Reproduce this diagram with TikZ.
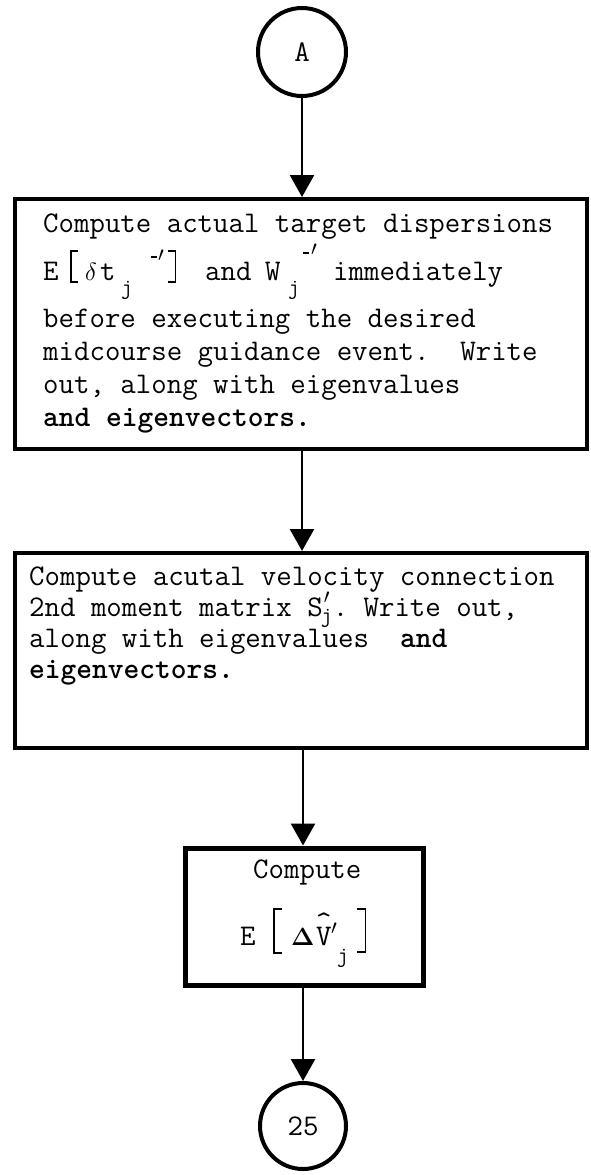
\documentclass[tikz,border=0pt]{standalone}
\usetikzlibrary{arrows.meta}
\renewcommand\familydefault{\ttdefault}
\newcommand\putat[2]{\makebox[0pt][l]{\hspace*{#1}#2}}
\newcommand\LBr[3]{\rlap{\rule[-#3]{1.6pt}{\dimexpr#2+#3\relax}}\rlap{\rule[\dimexpr#2-1.6pt\relax]{#1}{1.6pt}}\rule[-#3]{#1}{1.6pt}}
\newcommand\RBr[3]{\rlap{\rule[\dimexpr#2-1.6pt\relax]{#1}{1.6pt}}\rlap{\rule[-#3]{#1}{1.6pt}}\kern\dimexpr#1-1.6pt\relax\rule[-#3]{1.6pt}{\dimexpr#2+#3\relax}}
\newcommand\subj[1]{\raisebox{-#1}{\fontsize{22}{22}\selectfont j}}
\newcommand\prm[1]{\raisebox{#1}{\fontsize{20}{20}\selectfont$\prime$}}
\newcommand\dsh[1]{\rule[#1]{6pt}{1.6pt}}
\tikzset{
  txt/.style={inner sep=0pt, font=\fontsize{30}{33}\selectfont\ttfamily\frenchspacing},
  boxnode/.style={draw, line width=4pt, rectangle, inner sep=0pt},
  circnode/.style={draw, line width=4pt, circle, inner sep=0pt, font=\fontsize{30}{33}\selectfont\ttfamily},
  conn/.style={line width=2.5pt, -{Triangle[width=24pt,length=22pt]}}
}
\begin{document}
\begin{tikzpicture}[x=1pt,y=-1pt]
\useasboundingbox (0,0) rectangle (590,1175);
% nodes
\node[circnode, minimum size=88pt] (A) at (302,52) {A};
\node[boxnode, minimum width=572pt, minimum height=250pt] (b1) at (301,324) {};
\node[boxnode, minimum width=572pt, minimum height=195pt] (b2) at (301,650.5) {};
\node[boxnode, line width=5pt, minimum width=238pt, minimum height=137pt] (b3) at (304,916.5) {};
\node[circnode, minimum size=86pt] (C25) at (303,1126) {25};
% texts
\node[txt, anchor=base west] (t1) at (43,232) {\vtop{\baselineskip=33pt\lineskiplimit=-\maxdimen
\hbox{Compute actual target dispersions}\kern15pt
\hbox{\putat{0pt}{E}\putat{27pt}{\LBr{8pt}{30pt}{3pt}}\putat{42pt}{$\delta$}\putat{57pt}{t}\putat{78pt}{\subj{14pt}}\putat{108pt}{\dsh{22pt}}\putat{115pt}{\prm{19pt}}\putat{125pt}{\RBr{8pt}{30pt}{3pt}}\putat{162pt}{and}\putat{222pt}{W}\putat{245pt}{\subj{14pt}}\putat{260pt}{\dsh{26pt}}\putat{268pt}{\prm{25pt}}\putat{290pt}{immediately}}\kern14pt
\hbox{before executing the desired}
\hbox{midcourse guidance event.\ \ Write}
\hbox{out, along with eigenvalues}
\hbox{\bfseries and eigenvectors.}}};
\node[txt, anchor=base west] (t2) at (29,585) {\vtop{\baselineskip=31pt\lineskiplimit=-\maxdimen
\hbox{Compute acutal velocity connection}
\hbox{2nd moment matrix S\putat{-2pt}{\subj{6pt}}\putat{1pt}{\prm{13pt}}\kern10pt.\ Write out,}
\hbox{along with eigenvalues\ \ \textbf{and}}
\hbox{\bfseries eigenvectors.}}};
\node[txt, anchor=base west] (t3) at (240,878) {\vtop{\baselineskip=67pt\lineskiplimit=-\maxdimen
\hbox{\kern13pt Compute}
\hbox{\putat{0pt}{E}\putat{33pt}{\LBr{9pt}{37pt}{9pt}}\putat{51pt}{\fontsize{25}{25}\selectfont$\mathbf{\Delta}$}\putat{76pt}{V}\putat{76pt}{\raisebox{14pt}{\char"5E}}\putat{91pt}{\prm{11pt}}\putat{97pt}{\subj{17pt}}\putat{117pt}{\RBr{9pt}{37pt}{8pt}}}}};
% connectors
\draw[conn] (A.south) -- (A.south |- b1.north);
\draw[conn] (b1.south -| A.south) -- (b2.north -| A.south);
\draw[conn] (b2.south -| C25.north) -- (b3.north -| C25.north);
\draw[conn] (b3.south -| C25.north) -- (C25.north);
\end{tikzpicture}
\end{document}
